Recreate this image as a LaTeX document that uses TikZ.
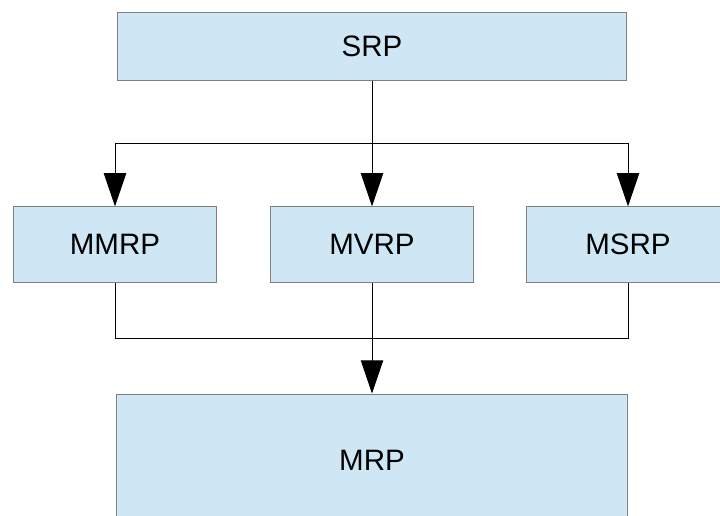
\documentclass[tikz,border=0pt]{standalone}
\usepackage{fontspec}
\setmainfont{Liberation Sans}
\usepackage{tikz}
\usetikzlibrary{positioning,arrows.meta}
\definecolor{boxfill}{RGB}{207,231,245}
\definecolor{boxline}{RGB}{128,128,128}

\begin{document}
\begin{tikzpicture}[x=0.025cm, y=-0.025cm,
  box/.style={draw=boxline, fill=boxfill, line width=0.7pt, inner sep=0pt,
              font=\fontsize{21}{25}\selectfont},
  wide/.style={box, minimum width=12.72cm, minimum height=1.7cm},
  small/.style={box, minimum width=5.08cm, minimum height=1.88cm},
  link/.style={line width=0.7pt, black},
  arr/.style={link, -{Triangle[length=0.83cm, width=0.56cm]}}
]
  \clip (0,0) rectangle (720,515);

  % top
  \node[wide] (srp) at (372,46) {SRP};

  % middle row
  \node[small] (mmrp) at (115,244.5) {MMRP};
  \node[small] (mvrp) at (372,244.5) {MVRP};
  \node[small] (msrp) at (628,244.5) {MSRP};

  % bottom
  \node[box, minimum width=12.75cm, minimum height=3.3cm] (mrp) at (372,460) {MRP};

  % split from SRP
  \coordinate (split) at (372,143);
  \draw[link] (srp.south) -- (split);
  \draw[arr] (split) -| (mmrp.north);
  \draw[arr] (split) -- (mvrp.north);
  \draw[arr] (split) -| (msrp.north);

  % join into MRP
  \coordinate (join) at (372,338);
  \draw[link] (mmrp.south) |- (join);
  \draw[link] (msrp.south) |- (join);
  \draw[arr] (mvrp.south) -- (mrp.north);
\end{tikzpicture}
\end{document}
